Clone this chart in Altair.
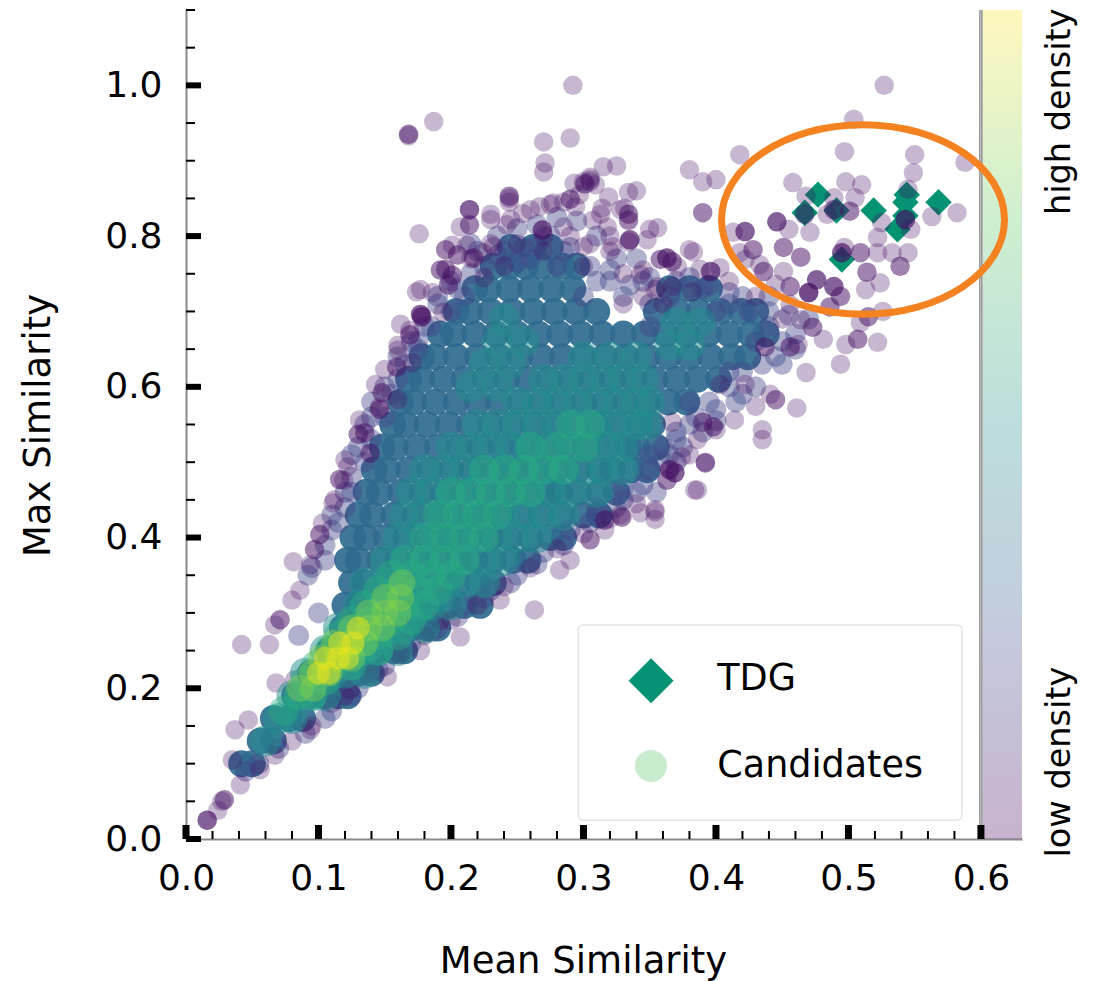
import altair as alt
import pandas as pd

x_major = [0.0, 0.1, 0.2, 0.3, 0.4, 0.5, 0.6]
y_major = [0.0, 0.2, 0.4, 0.6, 0.8, 1.0]
x_minor = [0.02, 0.04, 0.06, 0.08, 0.12, 0.14, 0.16, 0.18, 0.22, 0.24, 0.26, 0.28, 0.32, 0.34, 0.36, 0.38, 0.42, 0.44, 0.46, 0.48, 0.52, 0.54, 0.56, 0.58]
y_minor = [0.05, 0.1, 0.15, 0.25, 0.3, 0.35, 0.45, 0.5, 0.55, 0.65, 0.7, 0.75, 0.85, 0.9, 0.95, 1.05, 1.1]

tdg = [(.477,.855),(.467,.831),(.491,.834),(.519,.834),(.544,.855),(.543,.845),(.543,.827),(.537,.809),(.568,.845),(.495,.769)]

purple = [
(.292,1.0),(.527,1.0),(.504,.955),(.187,.952),(.168,.935),(.168,.935),(.168,.933),(.27,.925),(.29,.93),(.497,.912),(.55,.908),(.418,.908),
(.588,.898),(.271,.897),(.27,.885),(.315,.892),(.325,.893),(.38,.888),(.4,.875),(.293,.87),(.305,.875),(.305,.872),(.305,.878),(.34,.86),(.297,.855),
(.244,.853),(.244,.853),(.244,.85),(.244,.845),(.176,.803),(.549,.884),(.458,.871),(.498,.872),(.51,.868),(.505,.851),(.489,.851),(.468,.853),(.545,.862),
(.582,.831),(.563,.826),(.501,.833),(.501,.833),(.484,.829),(.471,.805),(.446,.819),(.446,.819),(.446,.819),(.422,.806),(.422,.806),(.422,.806),(.413,.805),
(.455,.809),(.467,.829),(.467,.829),(.489,.835),(.489,.835),(.543,.822),(.543,.822),(.543,.822),(.547,.809),(.525,.818),(.522,.798),(.495,.778),(.495,.778),(.495,.778),
(.497,.785),(.509,.778),(.509,.778),(.522,.778),(.533,.778),(.545,.778),(.539,.76),(.539,.76),(.514,.752),(.514,.752),(.524,.738),(.513,.729),(.515,.693),(.515,.693),
(.526,.7),(.509,.685),(.507,.663),(.507,.663),(.522,.659),(.498,.656),(.481,.663),(.473,.679),(.473,.679),(.451,.785),(.451,.785),(.428,.782),(.428,.782),(.418,.778),
(.464,.772),(.464,.772),(.476,.742),(.476,.742),(.476,.742),(.489,.733),(.489,.733),(.489,.733),(.47,.725),(.47,.725),(.47,.725),(.47,.725),(.494,.72),(.494,.72),
(.456,.733),(.456,.733),(.436,.753),(.436,.753),(.451,.753),(.396,.753),(.396,.753),(.39,.872),(.39,.831),(.39,.831),(.486,.706),(.486,.706),
(.468,.619),(.494,.63),(.462,.656),(.437,.653),(.437,.653),(.456,.653),(.456,.653),(.441,.59),(.461,.572),(.445,.583),(.445,.583),(.43,.574),(.435,.543),(.435,.53),
(.422,.603),(.414,.556),(.403,.603),(.4,.543),(.384,.463),(.392,.5),(.38,.51),(.365,.49),(.365,.49),(.365,.49),(.354,.437),(.354,.424),(.328,.43),(.305,.397),(.305,.397),
(.316,.41),(.29,.37),(.282,.357),(.263,.304),(.237,.317),(.207,.268),(.192,.29),(.177,.25),(.152,.215),(.162,.244),(.124,.198),(.094,.145),(.067,.111),(.056,.092),
(.041,.072),(.029,.052),(.029,.052),(.027,.05),(.024,.038),(.016,.025),(.016,.025),(.016,.025),(.035,.105),(.037,.145),(.047,.158),(.068,.207),(.082,.211),(.042,.258),
(.063,.258),(.067,.284),(.071,.291),(.071,.291),(.08,.317),(.086,.33),(.081,.368),(.094,.364),(.097,.384),(.097,.384),(.101,.404),(.101,.404),(.112,.45),(.116,.477),(.116,.477),
(.12,.503),(.13,.537),(.13,.537),(.131,.556),(.143,.603),(.146,.57),(.146,.57),(.15,.623),(.16,.649),(.169,.669),(.169,.669),(.162,.683),(.177,.696),(.177,.696),(.177,.696),
(.177,.729),(.196,.756),(.196,.756),(.196,.782),(.196,.782),(.214,.835),(.214,.835),(.214,.835),(.214,.815),(.214,.815),(.23,.829),(.245,.822),(.26,.835),(.275,.842),
(.29,.849),(.29,.849),(.301,.869),(.301,.869),(.313,.829),(.328,.835),(.334,.829),(.334,.829),(.335,.795),(.335,.795),(.335,.795),(.35,.809),(.32,.8),(.358,.769),(.358,.769),
(.38,.782),(.367,.766),(.367,.766),(.388,.756),(.354,.729),(.343,.749),(.403,.758),(.422,.769),(.433,.762),(.445,.736),(.456,.709),(.464,.689),
(.23,.79),(.25,.79),(.27,.8),(.29,.8),(.305,.79),(.32,.78),(.215,.77),(.225,.745),(.24,.76),(.27,.78),(.3,.76),(.33,.75),(.345,.72),(.36,.71),(.33,.71),(.41,.74),(.43,.72),(.45,.69),
(.207,.812),(.23,.822),(.242,.815),(.254,.83),(.267,.839),(.277,.844),(.285,.845),(.3,.872),(.309,.868),(.319,.852),(.334,.858),(.314,.837),(.331,.837),(.334,.821),(.334,.821),(.307,.821),
(.318,.812),(.294,.839),(.269,.808),(.269,.808),(.269,.808),(.285,.812),(.3,.786),(.322,.786),(.334,.792),(.348,.795),(.356,.811),(.363,.771),(.363,.771),(.363,.771),(.371,.759),(.383,.779),
(.345,.755),(.356,.733),(.367,.733),(.396,.753),(.382,.726),(.201,.788),(.212,.788),(.205,.775),(.205,.775),(.217,.771),(.217,.771),(.232,.786),(.224,.778),(.192,.755),(.192,.755),(.201,.748),
(.201,.748),(.198,.735),(.198,.735),(.174,.726),(.186,.725),(.178,.693),(.178,.693),(.178,.693),(.194,.699),(.169,.675),(.16,.655),(.159,.626),(.159,.626),(.171,.632),(.148,.592),(.148,.592),
(.146,.573),(.16,.583),(.135,.539),(.135,.539),(.139,.512),(.139,.512),(.122,.494),(.119,.476),(.111,.446),(.103,.419),(.369,.486),(.369,.486),(.369,.486),(.363,.476),(.363,.476),(.374,.507),
(.392,.499),(.392,.499),(.386,.463),(.354,.434),(.329,.427),(.329,.427),(.343,.433),(.316,.423),(.316,.423),(.39,.553),(.39,.553),(.398,.547),(.398,.547),(.367,.553),(.386,.53),
(.18,.27),(.2,.29),(.22,.31),(.24,.335),(.26,.36),(.28,.385),(.3,.405),(.32,.425),(.34,.445),(.11,.18),(.12,.19),(.14,.22),(.16,.245),(.095,.15),(.08,.13),
]

indigo = [
(.092,.35),(.105,.37),(.11,.41),(.12,.44),(.125,.48),(.135,.5),(.14,.53),(.15,.56),(.155,.59),(.165,.63),(.175,.66),(.185,.68),(.2,.7),(.205,.73),(.225,.76),(.24,.78),
(.265,.79),(.285,.78),(.31,.74),(.33,.72),(.35,.71),(.39,.73),(.42,.72),(.44,.7),(.46,.67),(.45,.63),(.43,.6),(.415,.58),(.39,.54),(.375,.52),(.36,.5),(.345,.47),(.33,.45),
(.31,.43),(.29,.41),(.27,.38),(.25,.35),(.23,.33),(.21,.31),(.19,.28),(.17,.26),(.15,.23),(.13,.2),(.11,.17),(.09,.14),(.07,.12),(.055,.1),(.045,.09),(.1,.3),(.085,.27),
(.35,.68),(.215,.79),(.26,.77),(.3,.72),(.4,.7),(.43,.66),(.41,.62),(.38,.58),(.37,.54),(.35,.51),(.215,.75),(.25,.765),(.28,.76),(.32,.74),(.345,.74),(.37,.74),(.41,.71),(.44,.68),
(.45,.66),(.435,.63),(.42,.59),(.4,.57),(.38,.55),(.365,.51),(.35,.49),(.33,.465),(.31,.44),(.13,.52),(.125,.46),(.115,.42),(.14,.56),(.16,.61),(.175,.65),(.19,.71),(.21,.72),
(.22,.78),(.235,.8),(.25,.81),(.265,.815),(.28,.825),(.295,.82),(.31,.8),(.325,.77),(.34,.77),(.235,.775),(.255,.785),(.275,.8),(.29,.785),(.305,.76),(.32,.755),(.335,.735),(.35,.745),
(.365,.72),(.38,.745),(.395,.735),(.41,.725),(.425,.7),(.44,.72),(.455,.695),(.47,.69),(.2,.74),(.19,.72),(.18,.68),(.17,.66),(.16,.64),(.15,.6),(.14,.58),(.135,.55),(.125,.51),(.12,.46),
(.11,.43),(.105,.39),(.095,.36),(.445,.64),(.46,.65),(.42,.62),(.41,.6),(.395,.58),(.4,.555),(.385,.56),(.37,.53),(.36,.52),(.37,.5),(.355,.46),(.34,.46),(.325,.44),(.305,.42),(.285,.39),
(.265,.365),(.245,.34),(.225,.32),(.205,.295),(.185,.275),(.165,.25),(.145,.225),(.125,.19),(.105,.16),
]

blue_rows = {
.10: [.042,.05], .13: [.056,.066], .16: [.066,.078,.088], .19: [.082,.094,.104,.115,.122], .22: [.094,.105,.118,.13,.14], .25: [.108,.12,.134,.144,.157,.165],
.28: [.118,.13,.146,.16,.17,.182,.19], .31: [.12,.13,.145,.16,.175,.186,.198,.21,.222], .34: [.125,.135,.151,.165,.18,.196,.205,.22,.232],
.37: [.122,.13,.146,.16,.176,.19,.206,.218,.232,.247,.258], .40: [.126,.136,.151,.166,.182,.198,.214,.23,.244,.26,.275,.285],
.43: [.13,.141,.157,.173,.189,.205,.221,.237,.253,.268,.284,.3,.312], .46: [.136,.146,.162,.178,.194,.21,.226,.242,.258,.274,.282,.296,.312,.325],
.49: [.142,.152,.168,.184,.2,.216,.232,.248,.264,.28,.296,.312,.322,.336,.348], .52: [.148,.158,.174,.19,.206,.222,.238,.254,.27,.286,.302,.318,.334,.34,.355],
.55: [.156,.166,.182,.198,.214,.23,.246,.262,.278,.294,.31,.326,.342,.352], .58: [.162,.172,.188,.204,.22,.236,.252,.268,.284,.3,.316,.332,.348,.364,.378],
.61: [.168,.178,.194,.21,.226,.242,.258,.274,.29,.306,.322,.338,.354,.37,.386,.402], .64: [.178,.188,.204,.22,.236,.252,.268,.284,.3,.316,.332,.348,.364,.38,.396,.412,.424],
.67: [.192,.202,.218,.234,.25,.266,.282,.298,.314,.33,.346,.362,.378,.394,.41,.426,.438], .70: [.204,.214,.23,.246,.262,.278,.294,.31,.355,.371,.387,.403,.419,.43],
.73: [.218,.228,.244,.26,.276,.292,.365,.38,.395], .76: [.232,.244,.256,.268,.284,.295], .785: [.245,.262,.275],
}

teal_rows = {
.13: [.06], .16: [.07,.08], .19: [.08,.095,.105], .22: [.09,.105,.12,.135], .25: [.105,.12,.135,.145,.16], .28: [.115,.13,.145,.165,.18],
.31: [.13,.145,.16,.175,.185,.2], .34: [.135,.15,.165,.18,.195,.21,.225], .37: [.15,.165,.18,.195,.21,.225,.24], .40: [.16,.175,.19,.205,.22,.235,.25,.265],
.43: [.165,.18,.195,.21,.225,.24,.255,.27,.285], .46: [.17,.185,.2,.215,.23,.245,.26,.275,.29,.31], .49: [.18,.195,.21,.225,.24,.255,.27,.285,.3,.315,.33],
.52: [.2,.215,.23,.245,.26,.275,.29,.305,.32,.33], .55: [.22,.235,.25,.265,.28,.295,.31,.325,.34,.347], .58: [.25,.265,.28,.295,.31,.325,.34,.35],
.61: [.27,.285,.3,.315,.33,.345], .64: [.3,.32,.34], .60: [.215,.235], .63: [.225,.245], .66: [.235,.255], .69: [.24], .655: [.365,.38], .685: [.37,.388],
}

green_rows = {
.17: [.074], .19: [.085,.095], .21: [.09,.105], .23: [.098,.112,.125], .25: [.108,.122,.132,.145], .27: [.115,.13,.145,.16], .29: [.125,.14,.155,.17], .31: [.135,.15,.165,.18], .33: [.145,.16,.175,.19],
.35: [.155,.17,.185,.2], .37: [.165,.18,.195,.21], .40: [.18,.195,.21,.225], .43: [.19,.205,.22,.235], .46: [.2,.215,.23,.245,.26], .49: [.225,.24,.255,.27,.285], .52: [.26,.28,.3], .55: [.29,.305],
}

lime_rows = {.20: [.086,.096], .22: [.095,.108], .24: [.102,.115,.125], .26: [.112,.125,.135], .28: [.125,.138,.148], .30: [.138,.15,.16], .32: [.15,.162], .34: [.163]}
yellow_rows = {.22: [.1,.108], .24: [.105,.115,.122], .26: [.116,.126], .28: [.13]}

viridis_stops = ["#440154", "#3b528b", "#21918c", "#5ec962", "#fde725"]

xs = alt.Scale(domain=[0, 0.631], nice=False, zero=False)
ys = alt.Scale(domain=[0, 1.1], nice=False, zero=False)
FONT = "DejaVu Sans"

x_axis = alt.Axis(
    values=x_major, format=".1f", ticks=False, grid=False, domainColor="#8a8a8a", domainWidth=2,
    labelFont=FONT, labelFontSize=36, labelColor="black", labelPadding=22, labelFlush=False, labelOverlap=False,
    title="Mean Similarity", titleFont=FONT, titleFontSize=37, titleFontWeight="normal", titleColor="black",
    titleX=397, titleY=122, titleBaseline="middle", titleAlign="center")
y_axis = alt.Axis(
    values=y_major, format=".1f", ticks=False, grid=False, domainColor="#8a8a8a", domainWidth=2,
    labelFont=FONT, labelFontSize=36, labelColor="black", labelPadding=24, labelFlush=False, labelOverlap=False,
    title="Max Similarity", titleFont=FONT, titleFontSize=37, titleFontWeight="normal", titleColor="black",
    titleX=-148, titleY=415, titleBaseline="middle", titleAlign="center", titleAngle=270)
XE = alt.X("x:Q", scale=xs, axis=x_axis)
YE = alt.Y("y:Q", scale=ys, axis=y_axis)


def rows_to_df(rows, d):
    return pd.DataFrame([{"x": x, "y": y, "d": d} for y, vals in rows.items() for x in vals])


def pairs_to_df(pairs, d):
    return pd.DataFrame([{"x": x, "y": y, "d": d} for x, y in pairs])


def band(df, px, op):
    return alt.Chart(df).mark_circle(size=px * px, opacity=op).encode(
        x=XE, y=YE,
        color=alt.Color("d:Q", scale=alt.Scale(scheme="viridis", domain=[0, 1]), legend=None),
    )


gradient = alt.Gradient(gradient="linear", x1=0, x2=0, y1=1, y2=0,
                        stops=[alt.GradientStop(offset=i / 4, color=c) for i, c in enumerate(viridis_stops)])
colorbar = alt.Chart(pd.DataFrame({"x": [0.6015], "x2": [0.631], "y": [0.0], "y2": [1.1]})).mark_rect(
    color=gradient, opacity=0.3).encode(x=XE, x2="x2:Q", y=YE, y2="y2:Q")

edge1 = alt.Chart(pd.DataFrame({"x": [0.6]})).mark_rule(color="#555555", strokeWidth=3).encode(
    x=XE, y=alt.value(0), y2=alt.value(829))
edge2 = alt.Chart(pd.DataFrame({"x": [0.6]})).mark_rule(color="#ffffff", strokeWidth=1).encode(
    x=XE, y=alt.value(0), y2=alt.value(829))

tdg_df = pd.DataFrame(tdg, columns=["x", "y"])
tdg_layer = alt.Chart(tdg_df).mark_point(shape="diamond", filled=True, size=700, color="#059473", opacity=1).encode(x=XE, y=YE)

bands = [
    band(rows_to_df(blue_rows, 0.34), 27, 0.92),
    band(pairs_to_df(indigo, 0.2), 21, 0.42),
    band(pairs_to_df(purple, 0.04), 19.5, 0.3),
    band(rows_to_df(teal_rows, 0.49), 31, 0.5),
    band(rows_to_df(green_rows, 0.63), 30, 0.42),
    band(rows_to_df(lime_rows, 0.82), 27, 0.4),
    band(rows_to_df(yellow_rows, 0.97), 23, 0.5),
]

ellipse = alt.Chart(pd.DataFrame({"x": [0.511], "y": [0.822]})).mark_point(
    shape="M-1,0 A1,0.67 0 1,1 1,0 A1,0.67 0 1,1 -1,0 Z", size=80089, filled=False,
    stroke="#f58220", strokeWidth=7, opacity=1).encode(x=XE, y=YE)

x_maj = alt.Chart(pd.DataFrame({"x": x_major})).mark_rule(color="black", strokeWidth=7).encode(
    x=XE, y=alt.value(829), y2=alt.value(815))
x_min = alt.Chart(pd.DataFrame({"x": x_minor})).mark_rule(color="black", strokeWidth=2).encode(
    x=XE, y=alt.value(829), y2=alt.value(821))
y_maj = alt.Chart(pd.DataFrame({"y": y_major})).mark_rule(color="black", strokeWidth=6).encode(
    y=YE, x=alt.value(0), x2=alt.value(15))
y_min = alt.Chart(pd.DataFrame({"y": y_minor})).mark_rule(color="black", strokeWidth=2).encode(
    y=YE, x=alt.value(0), x2=alt.value(9))

legend_box = alt.Chart(pd.DataFrame({"x": [0.296], "x2": [0.5857], "y": [0.025], "y2": [0.284]})).mark_rect(
    fill="white", stroke="#e4e4e4", strokeWidth=1.5, cornerRadius=5).encode(x=XE, x2="x2:Q", y=YE, y2="y2:Q")
legend_d = alt.Chart(pd.DataFrame({"x": [0.351], "y": [0.21]})).mark_point(
    shape="diamond", filled=True, size=2025, color="#059473", opacity=1).encode(x=XE, y=YE)
legend_c = alt.Chart(pd.DataFrame({"x": [0.351], "y": [0.097]})).mark_circle(
    size=1024, color="#c9ebd0", opacity=1).encode(x=XE, y=YE)
legend_t = alt.Chart(pd.DataFrame({"x": [0.401, 0.401], "y": [0.212, 0.097], "t": ["TDG", "Candidates"]})).mark_text(
    font=FONT, fontSize=36.5, align="left", baseline="middle", color="black").encode(x=XE, y=YE, text="t:N")

side_t = alt.Chart(pd.DataFrame({"x": [0.66, 0.66], "y": [0.965, 0.102], "t": ["high density", "low density"]})).mark_text(
    font=FONT, fontSize=33.5, align="center", baseline="middle", color="black", angle=270).encode(x=XE, y=YE, text="t:N")

chart = alt.layer(
    colorbar, edge1, edge2, tdg_layer, *bands, ellipse,
    x_min, y_min, x_maj, y_maj, legend_box, legend_d, legend_c, legend_t, side_t,
).properties(
    width=836, height=829,
    autosize=alt.AutoSizeParams(type="none"),
    padding={"left": 178, "top": 2, "right": 70, "bottom": 142},
    background="white",
).configure_view(strokeWidth=0)

chart.save("out.html", embed_options={"renderer": "svg", "actions": False})
